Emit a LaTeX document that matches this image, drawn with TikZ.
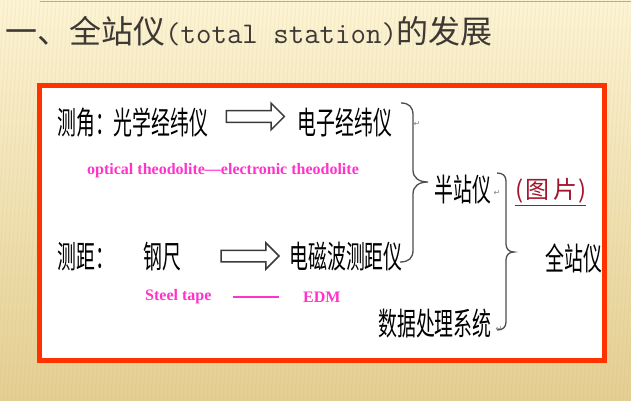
\documentclass[tikz,border=0pt]{standalone}
\usepackage{fontspec}
\usepackage{tikz}
\usetikzlibrary{positioning,shapes.arrows}

\newfontfamily\zhfont{Noto Sans CJK SC}
\newfontfamily\zhnarrow[FakeStretch=0.6]{Noto Sans CJK SC}
\newfontfamily\enfont{Liberation Serif}
\newfontfamily\symfont{DejaVu Sans}

\definecolor{framered}{HTML}{FF3300}
\definecolor{enpink}{HTML}{FF33CC}
\definecolor{picred}{HTML}{A3162E}
\definecolor{titlegray}{HTML}{3D3834}
\definecolor{inkgray}{HTML}{3A3A3A}
\definecolor{bgtop}{HTML}{FCF4D4}
\definecolor{bgmid}{HTML}{F3E4B2}
\definecolor{bgbot}{HTML}{E4CF92}

\begin{document}
\begin{tikzpicture}[x=1pt, y=-1pt]
    \tikzstyle{zh}=[inner sep=0, font=\zhnarrow\fontsize{31.5}{32}\selectfont, text=black]
    \tikzstyle{en}=[inner sep=0, font=\enfont\bfseries\fontsize{16}{17}\selectfont, text=enpink]
    \tikzstyle{hollow}=[single arrow, draw=inkgray, fill=white, line width=1.5pt, inner xsep=0, inner ysep=5pt, single arrow head extend=7.5pt, minimum height=58pt]
    \tikzstyle{brc}=[draw=inkgray!90, line width=1.3pt]
    \tikzstyle{ret}=[inner sep=0, font=\symfont\fontsize{8}{8}\selectfont, text=gray]

    \useasboundingbox (0,0) rectangle (631,401);
    \shade[top color=bgtop, middle color=bgmid, bottom color=bgbot] (0,0) rectangle (631,401);
    \foreach \i in {-40,-36,...,680}
        \draw[brown, opacity=0.06, line width=1.2pt] (\i,0) -- (\i-25,401);
    \draw[orange!80, line width=1pt] (40,2) -- (631,2);

    \node[anchor=west, inner sep=0, text=titlegray] (title) at (5,31)
        {\zhfont\fontsize{32}{34}\selectfont 一、全站仪{\ttfamily\fontsize{30}{32}\selectfont(total station)}的发展};

    \draw[framered, fill=white, line width=5pt] (39.5,85.5) rectangle (604.5,360.5);

    \node[zh, anchor=west] (angA) at (57,123) {测角：光学经纬仪};
    \node[hollow, right=17pt of angA, yshift=6.5pt] (arrA) {};
    \node[zh, right=12pt of arrA.east, anchor=west, yshift=-6.5pt] (angB) {电子经纬仪};
    \node[en, anchor=west] (enA) at (87,171) {optical theodolite—electronic theodolite};

    \node[zh, anchor=west] (distA) at (57,257) {测距：};
    \node[zh, right=29pt of distA] (tape) {钢尺};
    \node[hollow, right=39pt of tape, yshift=1pt] (arrB) {};
    \node[zh, right=9pt of arrB.east, anchor=west, yshift=-1pt] (edm) {电磁波测距仪};
    \node[en, anchor=west] (enB) at (145,297) {Steel tape};
    \node[en, anchor=west] (enC) at (303,297) {EDM};
    \draw[enpink, line width=1.6pt, shorten <=21pt, shorten >=24pt] (enB.east) -- (enC.west);

    \node[zh, anchor=west] (semi) at (434,190) {半站仪};
    \node[anchor=west, inner sep=0, text=picred, font=\zhfont\fontsize{24}{26}\selectfont] (pic) at (515,192)
        {\underline{(\hspace{2pt}图\hspace{4pt}片\hspace{1pt})}};
    \node[zh, anchor=west] (total) at (545,258) {全站仪};
    \node[zh, anchor=west] (data) at (378,324) {数据处理系统};

    \draw[brc] (401,103) .. controls (409,103) and (413,107) .. (413,115) -- (413,170)
        .. controls (413,178) and (419,182) .. (428,182)
        .. controls (419,182) and (413,186) .. (413,194) -- (413,250)
        .. controls (413,258) and (409,262) .. (400,262);
    \draw[brc] (497,173) .. controls (503,173) and (506,176) .. (506,181) -- (506,244)
        .. controls (506,249) and (509,252) .. (514,252)
        .. controls (509,252) and (506,255) .. (506,260) -- (506,322)
        .. controls (506,327) and (503,330) .. (497,330);

    \node[ret] (ret1) at (417,124) {↵};
    \node[ret] (ret2) at (497,193) {↵};
    \node[ret] (ret3) at (499,329) {↵};
\end{tikzpicture}
\end{document}
